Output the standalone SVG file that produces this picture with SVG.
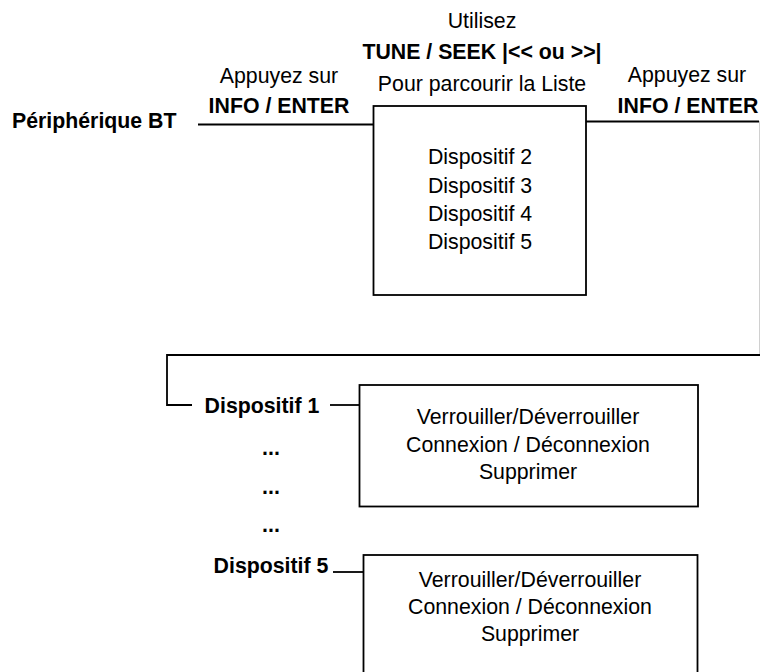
<svg xmlns="http://www.w3.org/2000/svg" width="760" height="672" viewBox="0 0 760 672">
<style>
text{font-family:"Liberation Sans",Arial,sans-serif;font-size:21.3px;fill:#000}
.b{font-weight:bold}
.c{text-anchor:middle}
.box{fill:#fff;stroke:#000;stroke-width:1.8}
.ln{fill:none;stroke:#000;stroke-width:1.8}
</style>
<rect width="760" height="672" fill="#fff"/>
<g id="connectors">
<path class="ln" d="M198,124.5 H373"/>
<path class="ln" d="M586,121.5 H759"/>
<path d="M759.5,121 V355" fill="none" stroke="#d0d0d0" stroke-width="1"/>
<path class="ln" d="M760,355 H167 V405 H192"/>
<path class="ln" d="M330,405 H359"/>
<path class="ln" d="M333,572 H363"/>
</g>
<g id="label-start">
<text class="b" x="12" y="128">Périphérique BT</text>
</g>
<g id="label-left">
<text class="c" x="279" y="83">Appuyez sur</text>
<text class="b c" x="279" y="113">INFO / ENTER</text>
</g>
<g id="label-top">
<text class="c" x="482" y="28">Utilisez</text>
<text class="b c" x="482" y="59">TUNE / SEEK |&lt;&lt; ou &gt;&gt;|</text>
<text class="c" x="482" y="91">Pour parcourir la Liste</text>
</g>
<g id="label-right">
<text class="c" x="687" y="82">Appuyez sur</text>
<text class="b c" x="688" y="113">INFO / ENTER</text>
</g>
<g id="list-box">
<rect class="box" x="373.5" y="106" width="212.5" height="189"/>
<text class="c" x="480" y="164">Dispositif 2</text>
<text class="c" x="480" y="192.5">Dispositif 3</text>
<text class="c" x="480" y="220.5">Dispositif 4</text>
<text class="c" x="480" y="248.5">Dispositif 5</text>
</g>
<g id="device-1">
<text class="b c" x="262" y="413">Dispositif 1</text>
</g>
<g id="dots">
<text class="b c" x="271" y="455">...</text>
<text class="b c" x="271" y="494">...</text>
<text class="b c" x="271" y="532">...</text>
</g>
<g id="device-5">
<text class="b c" x="271" y="573">Dispositif 5</text>
</g>
<g id="menu-1">
<rect class="box" x="359.5" y="385" width="338.5" height="121.5"/>
<text class="c" x="528" y="424">Verrouiller/Déverrouiller</text>
<text class="c" x="528" y="452">Connexion / Déconnexion</text>
<text class="c" x="528" y="479">Supprimer</text>
</g>
<g id="menu-5">
<rect class="box" x="363.5" y="555" width="334" height="130"/>
<text class="c" x="530" y="587">Verrouiller/Déverrouiller</text>
<text class="c" x="530" y="614">Connexion / Déconnexion</text>
<text class="c" x="530" y="641">Supprimer</text>
</g>
</svg>
